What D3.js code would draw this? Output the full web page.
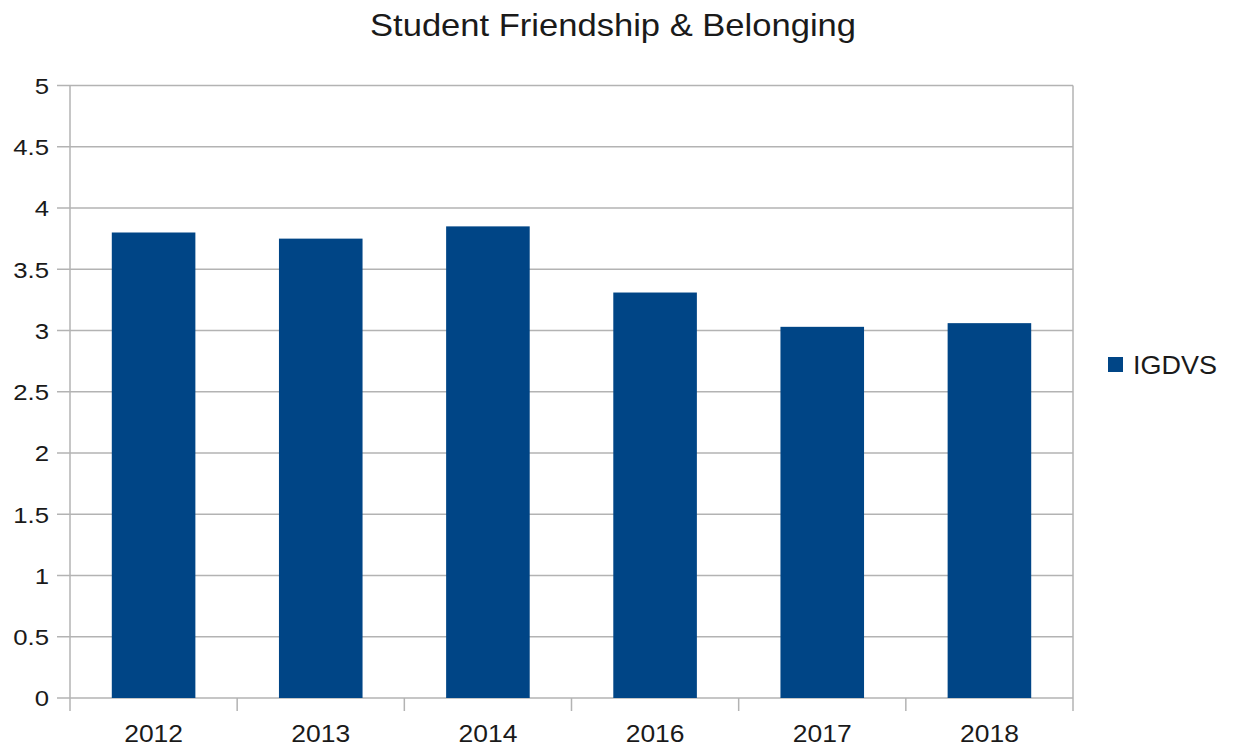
<!DOCTYPE html>
<html><head><meta charset="utf-8">
<script src="https://cdn.jsdelivr.net/npm/d3@7"></script>
<style>body{margin:0;background:#fff}text{font-family:"Liberation Sans",Arial,sans-serif;fill:#1a1a1a}</style>
</head><body><svg id="c" width="1235" height="748"></svg>
<script>
const categories = ["2012","2013","2014","2016","2017","2018"];
const values = [3.80, 3.75, 3.85, 3.31, 3.03, 3.06];
const yTicks = [0,0.5,1,1.5,2,2.5,3,3.5,4,4.5,5];
const seriesName = "IGDVS";
const title = "Student Friendship & Belonging";

const svg = d3.select("#c");
const L = 70, R = 1073, T = 85.5, B = 698;
const x = d3.scaleBand().domain(categories).range([L, R]).paddingInner(0.5).paddingOuter(0.25);
const xb = d3.scaleBand().domain(categories).range([L, R]);
const y = d3.scaleLinear().domain([0,5]).range([B, T]);
const grid = "#b3b3b3";

svg.append("g").selectAll("line").data(yTicks).join("line")
  .attr("x1", L - 13).attr("x2", R).attr("y1", d => y(d)).attr("y2", d => y(d))
  .attr("stroke", grid).attr("stroke-width", 1.5);
svg.append("line").attr("x1", L).attr("x2", L).attr("y1", T).attr("y2", B + 13).attr("stroke", grid).attr("stroke-width", 1.5);
svg.append("line").attr("x1", R).attr("x2", R).attr("y1", T).attr("y2", B + 13).attr("stroke", grid).attr("stroke-width", 1.5);
svg.append("g").selectAll("line").data(categories.slice(1)).join("line")
  .attr("x1", d => xb(d)).attr("x2", d => xb(d)).attr("y1", B).attr("y2", B + 13)
  .attr("stroke", grid).attr("stroke-width", 1.5);

svg.append("g").selectAll("rect").data(categories).join("rect")
  .attr("x", d => x(d)).attr("width", x.bandwidth())
  .attr("y", (d,i) => y(values[i])).attr("height", (d,i) => B - y(values[i]))
  .attr("fill", "#004586");

svg.append("g").selectAll("text").data(yTicks).join("text")
  .attr("transform", d => `translate(49,${y(d)}) scale(1.12,1)`)
  .attr("dy", "0.36em").attr("text-anchor", "end")
  .style("font-size", "23px").text(d => d);
svg.append("g").selectAll("text").data(categories).join("text")
  .attr("transform", d => `translate(${xb(d) + xb.bandwidth()/2},742) scale(1.08,1)`)
  .attr("text-anchor", "middle")
  .style("font-size", "24.5px").text(d => d);

svg.append("text").attr("transform", "translate(613,36) scale(1.08,1)").attr("text-anchor", "middle")
  .style("font-size", "32px").text(title);

svg.append("rect").attr("x", 1108).attr("y", 357).attr("width", 15).attr("height", 15).attr("fill", "#004586");
svg.append("text").attr("transform", "translate(1133,374) scale(1.08,1)").style("font-size", "25px").text(seriesName);
</script></body></html>
